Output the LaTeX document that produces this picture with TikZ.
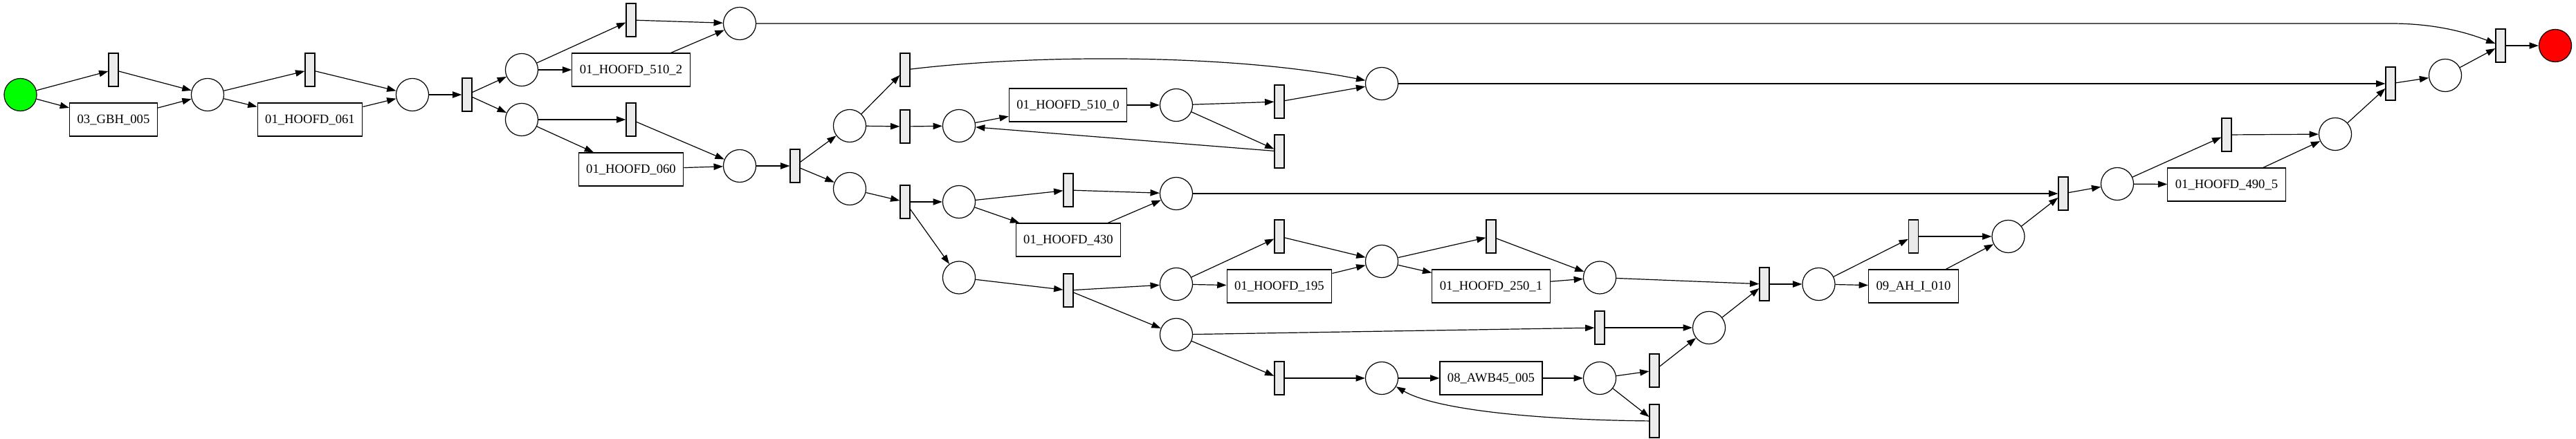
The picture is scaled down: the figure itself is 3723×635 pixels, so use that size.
\documentclass[tikz,border=0pt]{standalone}
\usepackage{fontspec}
\setmainfont{Liberation Serif}
\usetikzlibrary{arrows.meta}
\usetikzlibrary{positioning}

\definecolor{transgray}{RGB}{235,235,235}
\definecolor{srcgreen}{RGB}{0,255,0}
\definecolor{snkred}{RGB}{255,0,0}

\tikzset{
  place/.style={circle, draw, line width=0.9pt, minimum size=35.3pt, inner sep=0pt},
  trans/.style={rectangle, draw, fill=transgray, line width=0.9pt,
                minimum width=10.5pt, minimum height=36pt, inner sep=0pt},
  task/.style={rectangle, draw, line width=0.9pt, minimum height=36pt,
               inner xsep=8.25pt, inner ysep=0pt, font=\fontsize{14pt}{16pt}\selectfont},
  flow/.style={-{Triangle[length=10pt,width=7pt]}, line width=0.9pt},
}

\begin{document}
\begin{tikzpicture}[x=0.75pt, y=-0.75pt, on grid]
   \useasboundingbox (0,0) rectangle (3723,635);

   % start and first steps
   \node[place, fill=srcgreen] (src) at (29.5,137) {};
   \node[trans] (t1) at (164,101) {};
   \node[task, below=54pt of t1] (gbh005) {03\_GBH\_005};
   \node[place] (p2) at (300,137) {};
   \node[trans] (t2) at (448,101) {};
   \node[task, below=54pt of t2] (h061) {01\_HOOFD\_061};
   \node[place] (p3) at (596,137) {};
   \node[trans] (t3) at (675,137) {};
   \node[place] (p4) at (754,101) {};
   \node[place, below=54pt of p4] (p5) {};
   \node[trans] (t4) at (912,29) {};
   \node[task, below=54pt of t4] (h5102) {01\_HOOFD\_510\_2};
   \node[place] (p6) at (1069,34) {};
   \node[trans] (t5) at (912,173) {};
   \node[task, below=54pt of t5] (h060) {01\_HOOFD\_060};
   \node[place] (p7) at (1069,240) {};
   \node[trans] (t6) at (1149,240) {};
   \node[place] (p8) at (1228,182) {};
   \node[place] (p9) at (1228,273) {};

   % upper branch
   \node[trans] (t7) at (1308,101) {};
   \node[trans] (t8) at (1308,183) {};
   \node[place] (p10) at (1386,182) {};
   \node[task] (h5100) at (1543.5,152) {01\_HOOFD\_510\_0};
   \node[place] (p11) at (1700,152) {};
   \node[trans] (t9) at (1849,147) {};
   \node[trans] (t10) at (1849,219) {};
   \node[place] (p12) at (1997,121) {};

   % lower branch
   \node[trans] (t11) at (1308,292) {};
   \node[place] (p13) at (1386,292) {};
   \node[trans] (t12) at (1544,275) {};
   \node[task, below=54pt of t12] (h430) {01\_HOOFD\_430};
   \node[place] (p14) at (1700,280) {};
   \node[place] (p18) at (1386,401.5) {};
   \node[trans] (t16) at (1544,420) {};
   \node[place] (p19) at (1700,411) {};
   \node[place] (p20) at (1700,484) {};
   \node[trans] (t17) at (1849,342) {};
   \node[task, below=54pt of t17] (h195) {01\_HOOFD\_195};
   \node[place] (p21) at (1997,378) {};
   \node[trans] (t18) at (2155,342) {};
   \node[task, below=54pt of t18] (h2501) {01\_HOOFD\_250\_1};
   \node[place] (p22) at (2312,401.5) {};
   \node[trans] (t19) at (2312,474) {};
   \node[trans] (t20) at (1849,547) {};
   \node[place] (p23) at (1997,547) {};
   \node[task] (awb005) at (2155,547) {08\_AWB45\_005};
   \node[place] (p24) at (2312,547) {};
   \node[trans] (t21) at (2391,536) {};
   \node[trans] (t22) at (2391,609) {};
   \node[place] (p25) at (2470,474) {};
   \node[trans] (t23) at (2550,411) {};
   \node[place] (p26) at (2628.5,411) {};
   \node[trans] (t24) at (2765.5,342) {};
   \node[task, below=54pt of t24] (ah010) {09\_AH\_I\_010};
   \node[place] (p27) at (2902.5,342) {};

   % joining up to the end
   \node[trans] (t15) at (2982,280) {};
   \node[place] (p17) at (3060,266) {};
   \node[trans] (t14) at (3218,195) {};
   \node[task, below=54pt of t14] (h4905) {01\_HOOFD\_490\_5};
   \node[place] (p16) at (3375,194) {};
   \node[trans] (t13) at (3455,121) {};
   \node[place] (p15) at (3534,109) {};
   \node[trans] (t25) at (3614,66) {};
   \node[place, fill=snkred] (snk) at (3693,66) {};

   \foreach \a/\b in {src/t1, src/gbh005, t1/p2, gbh005/p2, p2/t2, p2/h061,
         t2/p3, h061/p3, p3/t3, t3/p4, t3/p5, p4/t4, p4/h5102, t4/p6, h5102/p6,
         p5/t5, p5/h060, t5/p7, h060/p7, p7/t6, t6/p8, t6/p9,
         p8/t7, p8/t8, t8/p10, p10/h5100, h5100/p11, p11/t9, p11/t10, t10/p10,
         t9/p12, p12/t13,
         p9/t11, t11/p13, t11/p18, p13/t12, p13/h430, t12/p14, h430/p14, p14/t15,
         p18/t16, t16/p19, t16/p20, p19/t17, p19/h195, t17/p21, h195/p21,
         p21/t18, p21/h2501, t18/p22, h2501/p22, p22/t23,
         p20/t19, p20/t20, t20/p23, p23/awb005, awb005/p24, p24/t21, p24/t22,
         t21/p25, t19/p25, p25/t23, t23/p26, p26/t24, p26/ah010, t24/p27,
         ah010/p27, p27/t15, t15/p17, p17/t14, p17/h4905, t14/p16, h4905/p16,
         p16/t13, t13/p15, p15/t25, t25/snk}
      \draw[flow] (\a) -- (\b);

   \draw[flow] (t7) .. controls (1500,78) and (1780,78) .. (p12);
   \draw[flow] (t22) .. controls (2200,607) and (2070,590) .. (p23);
   \draw[flow] (p6) -- (p6 -| t13) .. controls (3520,34) and (3565,47) .. (t25);
\end{tikzpicture}
\end{document}
